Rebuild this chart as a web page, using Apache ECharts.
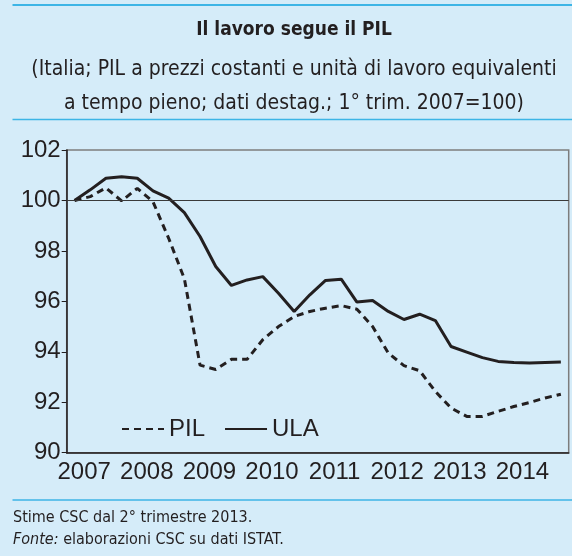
<!DOCTYPE html>
<html>
<head>
<meta charset="utf-8">
<script src="https://cdn.jsdelivr.net/npm/echarts@6/dist/echarts.min.js"></script>
<style>
  html, body { margin: 0; padding: 0; background: #d5ecf9; }
  #chart { width: 572px; height: 556px; }
</style>
</head>
<body>
<div id="chart"></div>
<script>
// tick labels (one per year) and quarterly categories
const years = ['2007', '2008', '2009', '2010', '2011', '2012', '2013', '2014'];
const quarters = [];
years.forEach(function (y) {
  ['I', 'II', 'III', 'IV'].forEach(function (q) { quarters.push(q + ' ' + y); });
});

// 1° trim. 2007 = 100
const pil = [100.0, 100.15, 100.5, 99.98, 100.48, 99.95, 98.5, 96.9,
  93.47, 93.3, 93.7, 93.7, 94.48, 95.0, 95.4, 95.6,
  95.73, 95.83, 95.69, 95.0, 93.95, 93.45, 93.25, 92.43,
  91.77, 91.44, 91.44, 91.64, 91.83, 91.99, 92.17, 92.32];
const ula = [100.0, 100.42, 100.88, 100.94, 100.88, 100.38, 100.09, 99.52,
  98.57, 97.38, 96.63, 96.85, 96.98, 96.32, 95.6, 96.26,
  96.83, 96.88, 95.97, 96.03, 95.6, 95.28, 95.49, 95.24,
  94.21, 93.99, 93.77, 93.62, 93.58, 93.56, 93.58, 93.6];

const narrow = "'Liberation Sans Narrow', 'DejaVu Sans Condensed', sans-serif";
const sans = "'Liberation Sans', Arial, sans-serif";
const ink = '#231f20';
const rule = '#3db5e6';

const chart = echarts.init(document.getElementById('chart'));

const option = {
  backgroundColor: '#d5ecf9',
  animation: false,
  title: [{
    text: 'Il lavoro segue il PIL',
    left: 294, top: 21, textAlign: 'center', padding: 0,
    textStyle: { fontFamily: narrow, fontSize: 19, fontWeight: 'bold', color: ink }
  }, {
    text: '(Italia; PIL a prezzi costanti e unità di lavoro equivalenti\na tempo pieno; dati destag.; 1° trim. 2007=100)',
    left: 294, top: 53, textAlign: 'center', padding: 0,
    textStyle: { fontFamily: narrow, fontSize: 21, fontWeight: 'normal', color: ink, lineHeight: 34 }
  }, {
    text: '{n|Stime CSC dal 2° trimestre 2013.}\n{i|Fonte:}{n| elaborazioni CSC su dati ISTAT.}',
    left: 13, top: 507, padding: 0,
    textStyle: {
      fontWeight: 'normal',
      rich: {
        n: { fontFamily: narrow, fontSize: 16, fontWeight: 'normal', color: ink, lineHeight: 22 },
        i: { fontFamily: narrow, fontSize: 16, fontWeight: 'normal', color: ink, lineHeight: 22, fontStyle: 'italic' }
      }
    }
  }],
  graphic: [
    { type: 'line', shape: { x1: 12.5, y1: 5, x2: 572, y2: 5 }, style: { stroke: rule, lineWidth: 2 } },
    { type: 'line', shape: { x1: 12.5, y1: 119.5, x2: 572, y2: 119.5 }, style: { stroke: rule, lineWidth: 1.5 } },
    { type: 'line', shape: { x1: 12.5, y1: 500, x2: 572, y2: 500 }, style: { stroke: rule, lineWidth: 1.5 } }
  ],
  legend: {
    left: 121, top: 417, padding: 0,
    itemWidth: 42, itemHeight: 12, itemGap: 19,
    itemStyle: { opacity: 0 },
    textStyle: { fontFamily: sans, fontSize: 24, color: ink },
    data: ['PIL', 'ULA']
  },
  grid: [{
    left: 66.7, right: 3.3, top: 150, bottom: 103.3,
    show: true, borderColor: '#7d7d7d', borderWidth: 1.5, backgroundColor: 'transparent'
  }, {
    left: 52.9, right: 18.3, top: 150, bottom: 103.3
  }],
  xAxis: [{
    type: 'category', gridIndex: 0, data: quarters, boundaryGap: true,
    axisLine: { lineStyle: { color: ink, width: 1.5 } },
    axisTick: { show: false },
    axisLabel: { show: false }
  }, {
    type: 'category', gridIndex: 1, data: years, boundaryGap: true,
    axisLine: { show: false },
    axisTick: { show: false },
    axisLabel: { interval: 0, fontFamily: sans, fontSize: 24, color: ink, margin: 8 }
  }],
  yAxis: [{
    type: 'value', gridIndex: 0, min: 90, max: 102, interval: 2,
    splitLine: { show: false },
    axisLine: { show: true, lineStyle: { color: ink, width: 1.5 } },
    axisTick: { show: true, length: 5, lineStyle: { color: ink } },
    axisLabel: { fontFamily: sans, fontSize: 24, color: ink, margin: 6 }
  }, {
    type: 'value', gridIndex: 1, show: false
  }],
  series: [{
    name: 'PIL', type: 'line', data: pil,
    symbol: 'none', z: 3,
    lineStyle: { color: ink, width: 3, type: [7, 5] },
    itemStyle: { color: ink }
  }, {
    name: 'ULA', type: 'line', data: ula,
    symbol: 'none', z: 4,
    lineStyle: { color: ink, width: 3 },
    itemStyle: { color: ink },
    markLine: {
      silent: true, symbol: 'none', label: { show: false },
      lineStyle: { color: '#3a3a3a', width: 1, type: 'solid' },
      data: [{ yAxis: 100 }]
    }
  }]
};

chart.setOption(option);
</script>
</body>
</html>
